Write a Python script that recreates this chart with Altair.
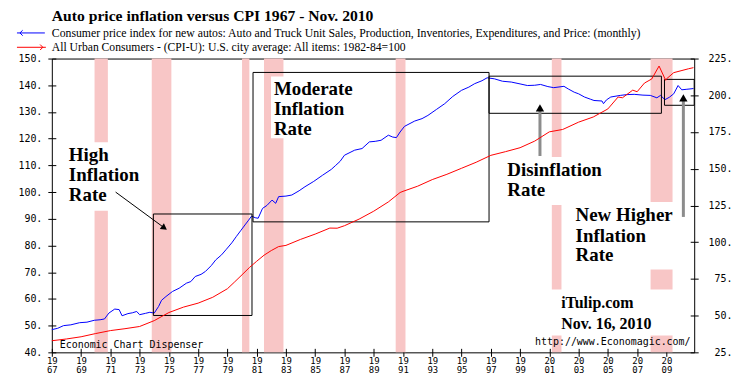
import altair as alt
import pandas as pd

# ---------------- data ----------------
auto_year = [1967.0, 1967.4, 1967.8, 1968.3, 1968.9, 1969.4, 1969.9, 1970.3, 1970.6, 1970.9,
             1971.3, 1971.6, 1971.8, 1972.2, 1972.5, 1972.8, 1973.0, 1973.4, 1973.7, 1974.0,
             1974.3, 1974.5, 1974.8, 1975.25, 1975.7, 1976.2, 1976.5, 1976.8, 1977.2, 1977.5,
             1977.9, 1978.2, 1978.6, 1978.9, 1979.3, 1979.6, 1979.9, 1980.2, 1980.45, 1980.65,
             1980.9, 1981.1, 1981.4, 1981.7, 1982.05, 1982.3, 1982.5, 1983.0, 1983.4, 1983.9,
             1984.3, 1984.9, 1985.5, 1986.1, 1986.4, 1986.7, 1987.0, 1987.7, 1988.2, 1988.7,
             1989.1, 1989.5, 1990.0, 1990.3, 1990.55, 1990.8, 1991.1, 1991.8, 1992.3, 1992.7,
             1993.3, 1993.85, 1994.4, 1995.0, 1995.5, 1995.9, 1996.4, 1996.75, 1997.25, 1997.8,
             1998.4, 1999.0, 1999.5, 2000.0, 2000.4, 2000.9, 2001.3, 2002.0, 2002.3, 2002.7,
             2003.0, 2003.4, 2003.8, 2004.05, 2004.6, 2004.7, 2004.9, 2005.2, 2005.85, 2006.3,
             2006.8, 2007.4, 2007.9, 2008.35, 2008.6, 2008.9, 2009.2, 2009.5, 2009.8, 2010.05,
             2010.4, 2010.75, 2010.85]
auto_val = [48.5, 49.0, 50.0, 50.3, 51.1, 51.3, 52.0, 52.2, 52.5, 54.7,
            56.2, 56.0, 53.7, 54.5, 54.8, 55.3, 54.1, 54.6, 55.0, 54.7,
            57.2, 59.5, 60.9, 62.8, 64.0, 65.9, 66.5, 68.4, 69.2, 70.3,
            72.5, 74.6, 76.5, 78.4, 81.0, 83.3, 85.5, 87.7, 89.5, 91.0,
            90.4, 90.2, 93.9, 95.0, 97.0, 95.8, 98.3, 98.5, 98.9, 100.5,
            102.0, 104.0, 106.3, 108.5, 110.0, 111.5, 113.8, 115.7, 116.3, 118.8,
            119.0, 119.4, 121.3, 120.6, 120.4, 122.5, 124.6, 126.6, 127.5, 128.7,
            131.0, 133.1, 135.8, 138.1, 139.3, 140.6, 141.7, 142.8, 142.4, 141.5,
            141.2, 140.5, 139.9, 140.0, 140.3, 139.5, 139.1, 139.6, 138.6, 137.4,
            136.8, 135.6, 134.8, 134.3, 134.1, 133.1, 134.5, 135.6, 136.2, 136.5,
            136.6, 136.3, 136.2, 135.3, 136.2, 134.6, 135.5, 136.8, 139.9, 138.3,
            138.5, 138.7, 138.8]

cpi_year = [1967.0, 1968.0, 1969.0, 1970.0, 1971.0, 1972.0, 1973.0, 1974.0, 1975.0, 1976.0,
            1977.0, 1978.0, 1979.0, 1979.5, 1980.0, 1980.5, 1981.0, 1981.5, 1982.0, 1982.5,
            1983.0, 1984.0, 1985.0, 1986.0, 1986.5, 1987.0, 1988.0, 1989.0, 1990.0, 1990.8,
            1991.0, 1992.0, 1993.0, 1994.0, 1995.0, 1996.0, 1997.0, 1998.0, 1999.0, 2000.0,
            2001.0, 2001.9, 2002.0, 2003.0, 2004.0, 2005.0, 2005.7, 2006.0, 2006.7, 2007.0,
            2007.5, 2008.0, 2008.5, 2008.95, 2009.0, 2009.5, 2010.0, 2010.5, 2010.85]
cpi_val = [32.9, 34.1, 35.6, 37.8, 39.8, 41.1, 42.6, 46.6, 52.1, 55.8,
           58.5, 62.5, 68.3, 73.0, 77.8, 82.7, 87.0, 91.1, 94.3, 97.0,
           97.8, 101.9, 105.5, 109.6, 109.5, 111.2, 115.7, 121.1, 127.4, 133.8,
           134.6, 138.1, 142.6, 146.2, 150.3, 154.4, 159.1, 161.6, 164.3, 168.8,
           175.1, 176.7, 177.1, 181.7, 185.2, 190.7, 198.8, 198.3, 203.5, 202.4,
           208.3, 211.1, 219.9, 210.2, 211.1, 215.4, 216.7, 218.0, 218.8]

rec_start = [1969.92, 1973.83, 1980.0, 1981.5, 1990.5, 2001.17, 2007.92]
rec_end = [1970.83, 1975.17, 1980.5, 1982.83, 1991.17, 2001.83, 2009.42]

x_ticks = list(range(1967, 2010, 2))
left_ticks = list(range(40, 151, 10))
right_ticks = list(range(25, 226, 25))

# annotation boxes (period boxes)
box_x1 = [1973.94, 1980.75, 1996.88, 2008.87]
box_x2 = [1980.68, 1996.88, 2008.66, 2010.9]
box_y1 = [53.8, 88.85, 129.5, 132.5]
box_y2 = [91.8, 144.8, 143.4, 142.2]

# white backgrounds behind annotation text
bg_x1 = [1967.95, 1981.98, 1997.84, 2002.6, 2000.9]
bg_x2 = [1973.5, 1989.3, 2005.1, 2009.75, 2009.75]
bg_y1 = [93.0, 120.2, 95.2, 71.0, 46.35]
bg_y2 = [118.7, 143.3, 113.1, 96.3, 63.5]

ann_text = ["High", "Inflation", "Rate",
            "Moderate", "Inflation", "Rate",
            "Disinflation", "Rate",
            "New Higher", "Inflation", "Rate"]
ann_x = [1968.16] * 3 + [1982.18] * 3 + [1998.13] * 2 + [2002.79] * 3
ann_y = [111.6, 104.1, 96.7, 136.2, 128.7, 121.5, 106.0, 98.55, 89.0, 81.5, 74.05]

sig_text = ["iTulip.com", "Nov. 16, 2010"]
sig_x = [2001.81, 2001.81]
sig_y = [56.67, 48.84]

small_text = ["Economic Chart Dispenser", "http://www.Economagic.com/"]
small_x = [1967.54, 2000.02]
small_y = [41.76, 42.6]

# arrows: black diagonal + two grey vertical
arrow_x1 = [1971.36, 2000.36, 2010.16]
arrow_y1 = [100.0, 113.5, 90.7]
arrow_x2 = [1974.69, 2000.36, 2010.16]
arrow_y2 = [86.6, 131.5, 135.3]

# ---------------- chart ----------------
W, H = 645, 295
XS = alt.Scale(domain=[1967, 2010.9], nice=False, zero=False)
YL = alt.Scale(domain=[40, 150], nice=False, zero=False)
YR = alt.Scale(domain=[25, 225], nice=False, zero=False)
MONO = "DejaVu Sans Mono"
SERIF = "Liberation Serif"
NARROW = "Liberation Sans Narrow"

XAX = alt.Axis(
    values=x_ticks, title=None, grid=False, domain=False, offset=-4, tickSize=8,
    tickColor="black", labelFont=MONO, labelFontSize=9, labelColor="black",
    labelPadding=0, labelLineHeight=9, labelFlush=False, labelOverlap=False,
    labelExpr="[substring(toString(datum.value),0,2), substring(toString(datum.value),2,4)]")
YAX = alt.Axis(
    values=left_ticks, title=None, grid=False, domain=False, offset=-4, tickSize=8,
    tickColor="black", labelFont=MONO, labelFontSize=10, labelColor="black",
    labelPadding=6, labelExpr="datum.value + '.'")
RAX = alt.Axis(
    orient="right", values=right_ticks, title=None, grid=False, domain=False,
    offset=-4, tickSize=8, tickColor="black", labelFont=MONO, labelFontSize=10,
    labelColor="black", labelAlign="right", labelPadding=34,
    labelExpr="datum.value + '.'")

auto_df = pd.DataFrame({"year": auto_year, "val": auto_val})
cpi_df = pd.DataFrame({"year": cpi_year, "val": cpi_val})
rec_df = pd.DataFrame({"s": rec_start, "e": rec_end})
box_df = pd.DataFrame({"x1": box_x1, "x2": box_x2, "y1": box_y1, "y2": box_y2})
bg_df = pd.DataFrame({"x1": bg_x1, "x2": bg_x2, "y1": bg_y1, "y2": bg_y2})
ann_df = pd.DataFrame({"x": ann_x, "y": ann_y, "t": ann_text})
sig_df = pd.DataFrame({"x": sig_x, "y": sig_y, "t": sig_text})
small_df = pd.DataFrame({"x": small_x, "y": small_y, "t": small_text})
arr_df = pd.DataFrame({"x1": arrow_x1, "y1": arrow_y1, "x2": arrow_x2, "y2": arrow_y2})


def X(f):
    return alt.X(f, scale=XS, axis=XAX)


def Y(f):
    return alt.Y(f, scale=YL, axis=YAX)


recess = alt.Chart(rec_df).mark_rect(color="#f8c6c6").encode(
    x=X("s:Q"), x2="e:Q", y=alt.value(0), y2=alt.value(H))

bgs = alt.Chart(bg_df).mark_rect(color="white").encode(
    x=X("x1:Q"), x2="x2:Q", y=Y("y1:Q"), y2="y2:Q")

blue = alt.Chart(auto_df).mark_line(color="#0000ff", strokeWidth=1).encode(
    x=X("year:Q"), y=Y("val:Q"))

boxes = alt.Chart(box_df).mark_rect(fill=None, fillOpacity=0, stroke="black", strokeWidth=1).encode(
    x=X("x1:Q"), x2="x2:Q", y=Y("y1:Q"), y2="y2:Q")

arr_black = alt.Chart(arr_df.iloc[[0]]).mark_rule(color="black", strokeWidth=1).encode(
    x=X("x1:Q"), x2="x2:Q", y=Y("y1:Q"), y2="y2:Q")
arr_black_head = alt.Chart(arr_df.iloc[[0]]).mark_point(
    shape="triangle-right", filled=True, color="black", size=50, angle=36, opacity=1).encode(
    x=X("x2:Q"), y=Y("y2:Q"))
arr_grey = alt.Chart(arr_df.iloc[[1, 2]]).mark_rule(color="#8c8c8c", strokeWidth=3).encode(
    x=X("x1:Q"), x2="x2:Q", y=Y("y1:Q"), y2="y2:Q")
arr_grey_head = alt.Chart(arr_df.iloc[[1, 2]]).mark_point(
    shape="triangle-up", filled=True, color="black", size=70, opacity=1).encode(
    x=X("x2:Q"), y=Y("y2:Q"))

ann = alt.Chart(ann_df).mark_text(
    font=SERIF, fontWeight="bold", fontSize=19, align="left", baseline="alphabetic",
    color="black").encode(x=X("x:Q"), y=Y("y:Q"), text="t:N")
sig = alt.Chart(sig_df).mark_text(
    font=SERIF, fontWeight="bold", fontSize=16, align="left", baseline="alphabetic",
    color="black").encode(x=X("x:Q"), y=Y("y:Q"), text="t:N")
small = alt.Chart(small_df).mark_text(
    font=MONO, fontSize=10, align="left", baseline="alphabetic", color="black").encode(
    x=X("x:Q"), y=Y("y:Q"), text="t:N")

# header (title + legend lines with arrows)
hdr_df = pd.DataFrame({"k": [0]})
title = alt.Chart(hdr_df).mark_text(
    font=NARROW, fontWeight="bold", fontSize=15.7, align="left", baseline="middle").encode(
    x=alt.value(0), y=alt.value(-43), text=alt.value("Auto price inflation versus CPI 1967 - Nov. 2010"))
leg1 = alt.Chart(hdr_df).mark_text(
    font=NARROW, fontSize=11.8, align="left", baseline="middle").encode(
    x=alt.value(0), y=alt.value(-25.5),
    text=alt.value("Consumer price index for new autos: Auto and Truck Unit Sales, Production, Inventories, Expenditures, and Price: (monthly)"))
leg2 = alt.Chart(hdr_df).mark_text(
    font=NARROW, fontSize=11.7, align="left", baseline="middle").encode(
    x=alt.value(0), y=alt.value(-11.7),
    text=alt.value("All Urban Consumers - (CPI-U): U.S. city average: All items: 1982-84=100"))
leg1_line = alt.Chart(hdr_df).mark_rule(color="#0000ff").encode(
    x=alt.value(-35), x2=alt.value(-7), y=alt.value(-25.7))
leg1_head = alt.Chart(hdr_df).mark_point(
    shape="M1,-1L0,0L1,1", filled=False, color="#0000ff", size=30, strokeWidth=1, opacity=1).encode(
    x=alt.value(-32), y=alt.value(-25.7))
leg2_line = alt.Chart(hdr_df).mark_rule(color="#ff0000").encode(
    x=alt.value(-35), x2=alt.value(-6), y=alt.value(-11.3))
leg2_head = alt.Chart(hdr_df).mark_point(
    shape="M-1,-1L0,0L-1,1", filled=False, color="#ff0000", size=30, strokeWidth=1, opacity=1).encode(
    x=alt.value(-9), y=alt.value(-11.3))

left_layer = alt.layer(recess, bgs, blue, boxes, arr_black, arr_black_head, arr_grey,
                       arr_grey_head, ann, sig, small, title, leg1, leg2,
                       leg1_line, leg1_head, leg2_line, leg2_head)

red = alt.Chart(cpi_df).mark_line(color="#ff0000", strokeWidth=1).encode(
    x=X("year:Q"), y=alt.Y("val:Q", scale=YR, axis=RAX))

chart = alt.layer(left_layer, red).resolve_scale(y="independent").properties(
    width=W, height=H,
    autosize=alt.AutoSizeParams(type="none"),
    padding={"left": 44, "top": 50, "right": 48, "bottom": 22},
    background="white",
).configure_view(stroke="black", strokeWidth=1)

chart.save("out.html", embed_options={"renderer": "svg", "actions": False})
